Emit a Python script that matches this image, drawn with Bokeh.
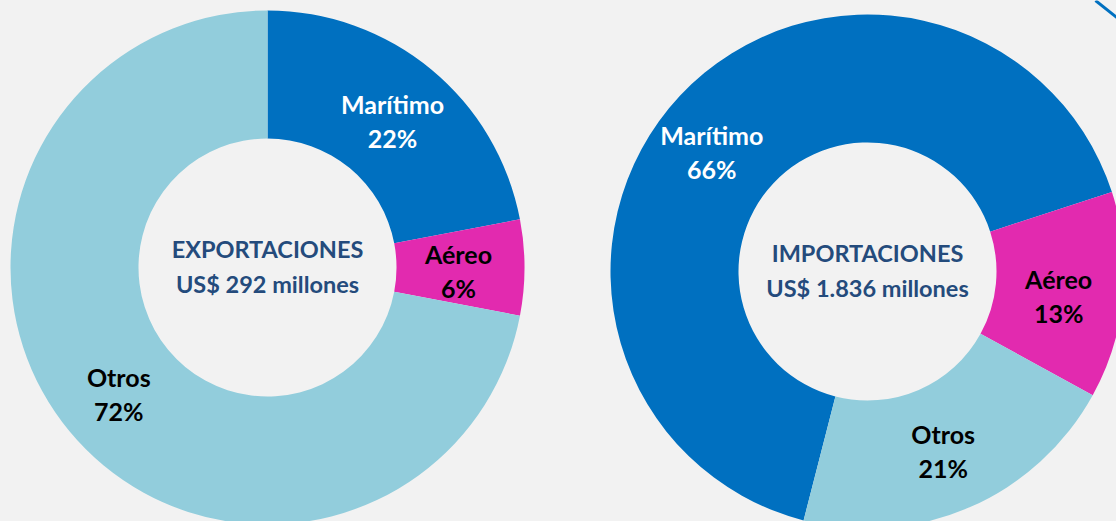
import math
from bokeh.plotting import figure
from bokeh.models import Range1d, Slope
from bokeh.core.properties import value
from bokeh.embed import file_html
from bokeh.resources import INLINE

# ---- data ----
categories = ["Marítimo", "Aéreo", "Otros"]
export_pct = [22, 6, 72]
import_pct = [66, 13, 21]
export_title = ["EXPORTACIONES", "US$ 292 millones"]
import_title = ["IMPORTACIONES", "US$ 1.836 millones"]

# ---- style ----
colors = ["#0070C0", "#E22AAF", "#92CDDC"]
label_colors = ["white", "black", "black"]
BG = "#F2F2F2"
TXT_BLUE = "#244B7C"
FONT = "Lato"

W, H = 1116, 521
p = figure(width=W, height=H, output_backend="svg", toolbar_location=None,
           x_range=Range1d(0, W), y_range=Range1d(-H, 0),
           min_border=0)
p.axis.visible = False
p.grid.visible = False
p.outline_line_color = None
p.background_fill_color = BG
p.border_fill_color = BG

R_OUT, R_IN = 257, 129


def donut(cx, cy, pcts, start_deg, title, nudges):
    ang = start_deg
    starts, ends, lx, ly = [], [], [], []
    for i, v in enumerate(pcts):
        span = v * 3.6
        a0, a1 = ang, ang - span
        starts.append(math.radians(a1))
        ends.append(math.radians(a0))
        mid = math.radians((a0 + a1) / 2)
        rm = (R_OUT + R_IN) / 2
        lx.append(cx + rm * math.cos(mid) + nudges[i][0])
        ly.append(cy + rm * math.sin(mid) + nudges[i][1])
        ang = a1
    p.annular_wedge(x=[cx] * len(pcts), y=[cy] * len(pcts), inner_radius=R_IN,
                    outer_radius=R_OUT, start_angle=starts, end_angle=ends,
                    direction="anticlock", fill_color=colors, line_color=None)
    p.text(x=lx, y=[y + 17 for y in ly], text=categories, text_color=label_colors,
           text_font=value(FONT), text_font_style="bold", text_font_size="25px",
           text_align="center", text_baseline="middle")
    p.text(x=lx, y=[y - 17 for y in ly], text=[f"{v}%" for v in pcts],
           text_color=label_colors, text_font=value(FONT), text_font_style="bold",
           text_font_size="25px", text_align="center", text_baseline="middle")
    p.text(x=[cx, cx], y=[cy + 19, cy - 16], text=title, text_color=TXT_BLUE,
           text_font=value(FONT), text_font_style="bold", text_font_size="23.5px",
           text_align="center", text_baseline="middle")


donut(267, -267, export_pct, 90, export_title, [(2, -2), (-2, -3), (0, -3)])
donut(867, -271, import_pct, 255.6, import_title, [(-15, -13), (-1, -6), (-1, -2)])

p.add_layout(Slope(gradient=-0.8, y_intercept=0.8 * 1095, line_color="#0070C0",
                   line_width=3))

html = file_html(p, INLINE)
html = html.replace("</head>", "<style>html,body{background:#F2F2F2;}</style></head>", 1)
open("out.html", "w").write(html)
